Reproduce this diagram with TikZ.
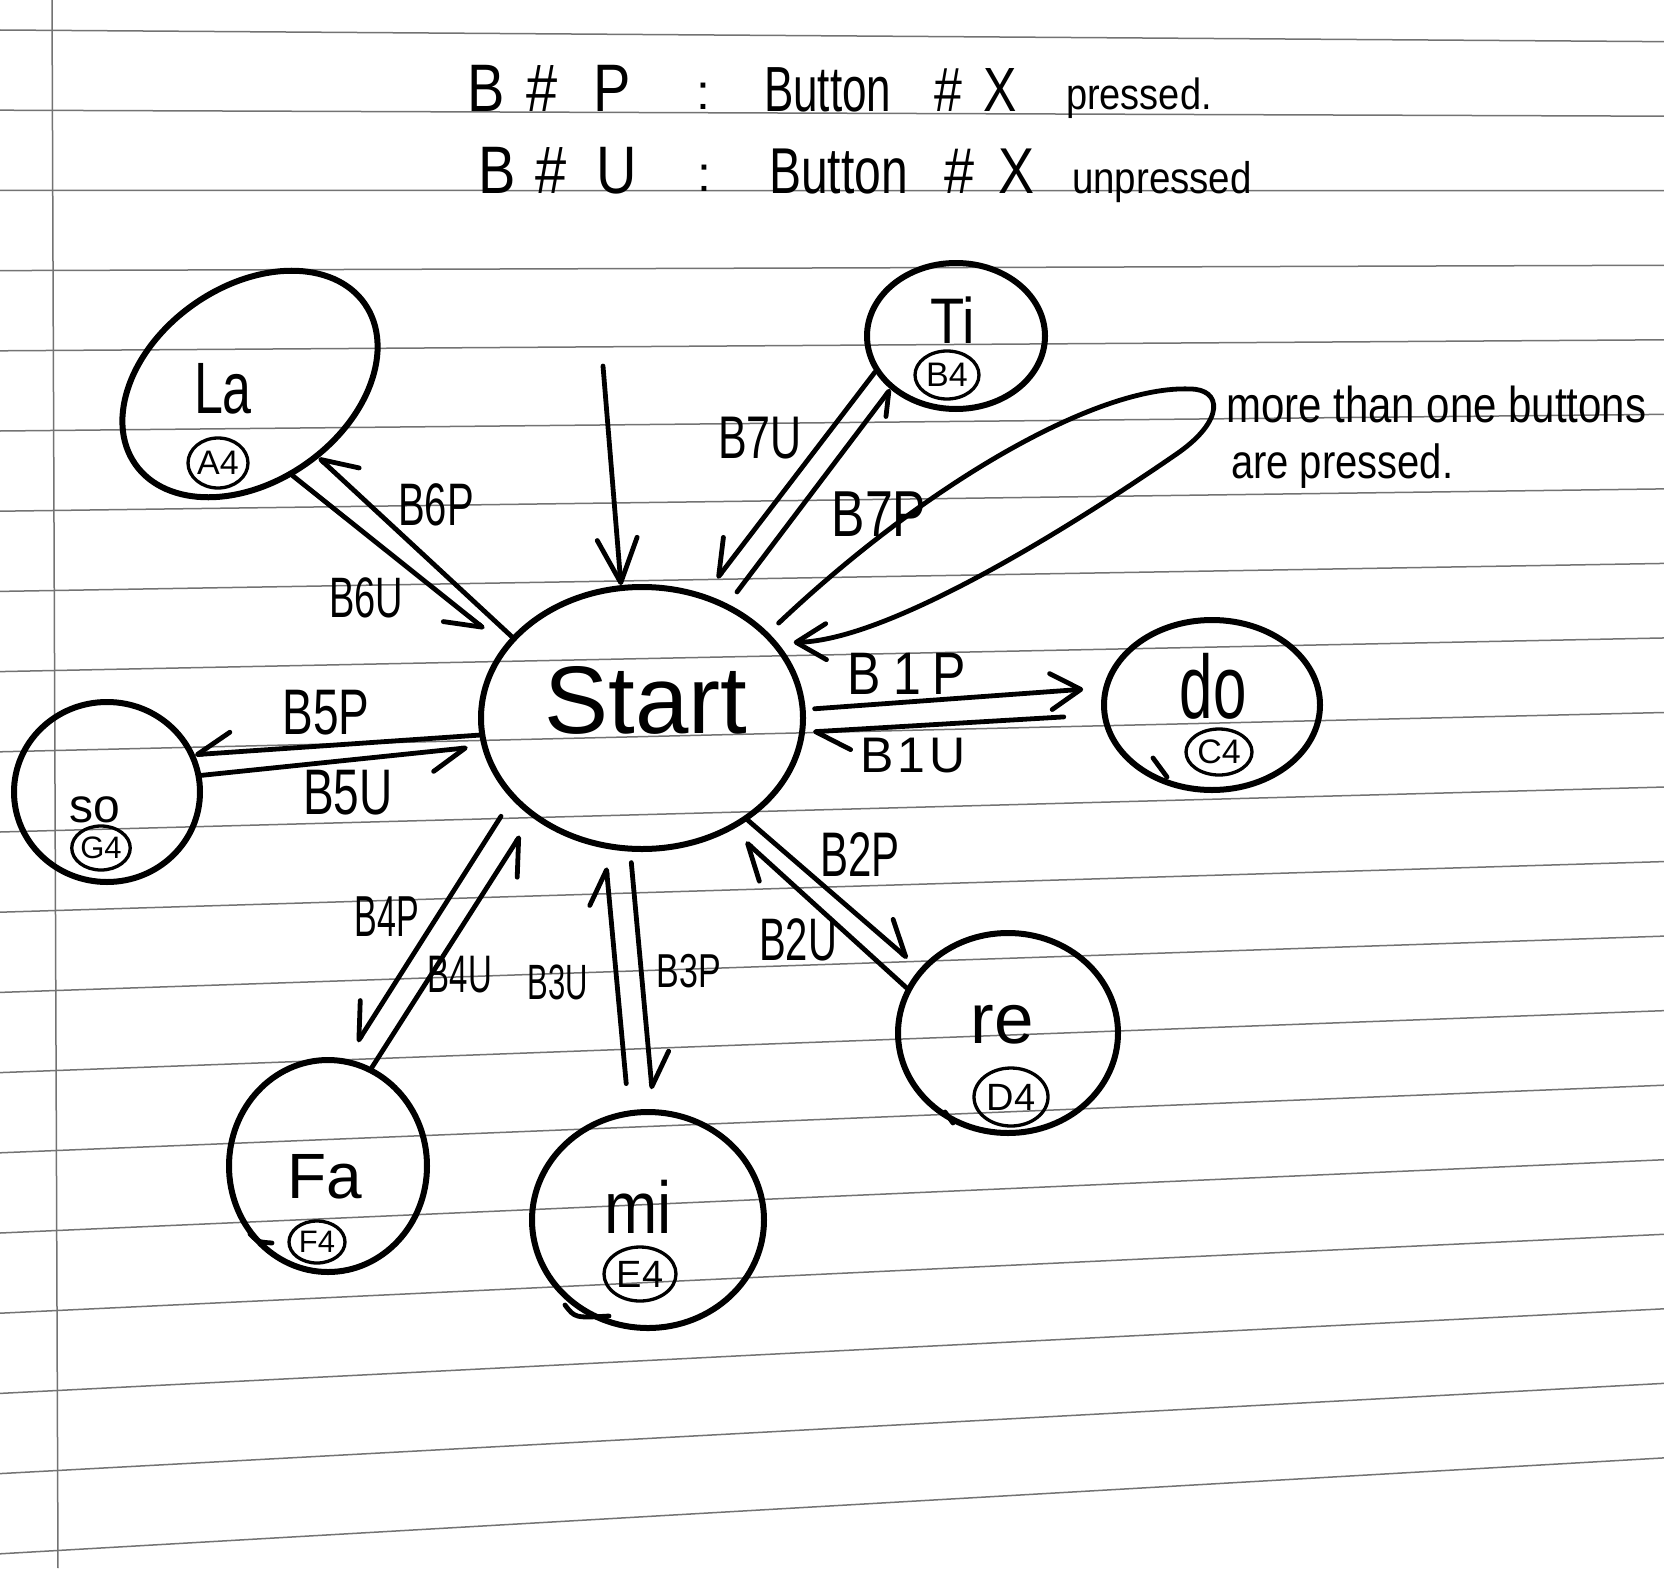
\documentclass[tikz,border=0pt]{standalone}
\usepackage{fontspec}
\setmainfont{Liberation Sans}
\usetikzlibrary{shapes.geometric,arrows.meta}
\newcommand{\hw}[2]{\scalebox{1}[#1]{#2}}
\newcommand{\fsz}[1]{\fontsize{#1}{#1}\selectfont}
\begin{document}
\begin{tikzpicture}[x=1pt,y=-1pt,
 rule/.style={draw=black!55,line width=1.5pt},
 stateE/.style={draw,ellipse,line width=6pt,inner sep=0pt},
 noteE/.style={draw,ellipse,line width=3.3pt,inner sep=0pt},
 trans/.style={line width=4.8pt,line cap=round},
 tipF/.style={-{Straight Barb[length=30pt,width=36pt,round]}},
 tipL/.style={-{Straight Barb[length=34pt,width=40pt,round,left]}},
 tipR/.style={-{Straight Barb[length=34pt,width=40pt,round,right]}},
 txt/.style={inner sep=0pt,outer sep=0pt},
 tail/.style={line width=4.8pt,line cap=round},
]
\useasboundingbox (0,0) rectangle (1664,1568);
\fill[white] (0,0) rectangle (1664,1568);
% ruled paper
\foreach \k in {0,...,19}{
  \draw[rule] (0,{30+80.2*\k}) -- (1664,{30+80.2*\k+1664*(0.007-0.0034*\k)});
}
\draw[rule] (52,0) -- (58,1568);

% legend
\node[txt,anchor=base west,font=\fsz{56}] (l1a) at (467,112) {\hw{1.2}{B\kern22pt\#\kern36pt P}};
\node[txt,anchor=base,font=\fsz{50}] (l1b) at (703,110) {:};
\node[txt,anchor=base west,font=\fsz{44}] (l1c) at (764,112) {\hw{1.45}{Button}};
\node[txt,anchor=base west,font=\fsz{50}] (l1d) at (934,112) {\hw{1.25}{\#\kern22pt X}};
\node[txt,anchor=base west,font=\fsz{38}] (l1e) at (1066,110) {\hw{1.15}{pressed.}};
\node[txt,anchor=base west,font=\fsz{56}] (l2a) at (478,193) {\hw{1.2}{B\kern20pt\#\kern30pt U}};
\node[txt,anchor=base,font=\fsz{50}] (l2b) at (704,191) {:};
\node[txt,anchor=base west,font=\fsz{48}] (l2c) at (769,193) {\hw{1.35}{Button}};
\node[txt,anchor=base west,font=\fsz{54}] (l2d) at (944,193) {\hw{1.2}{\#\kern25pt X}};
\node[txt,anchor=base west,font=\fsz{38.5}] (l2e) at (1072,193) {\hw{1.15}{unpressed}};

% states
\node[stateE,minimum width=322pt,minimum height=262pt] (start) at (642,718) {};
\node[txt,font=\fsz{96}] (startT) at (646,700) {Start};
\node[stateE,minimum width=280pt,minimum height=195pt,rotate=35] (la) at (250,384) {};
\node[txt,font=\fsz{52}] (laT) at (223,389) {\hw{1.4}{La}};
\node[noteE,minimum width=60pt,minimum height=50pt,font=\fsz{34}] (laN) at (218,463) {A4};
\node[stateE,minimum width=178pt,minimum height=146pt] (ti) at (956,336) {};
\node[txt,font=\fsz{56}] (tiT) at (953,320) {\hw{1.15}{Ti}};
\node[noteE,minimum width=64pt,minimum height=48pt,font=\fsz{34}] (tiN) at (947,375) {B4};
\node[stateE,minimum width=216pt,minimum height=170pt] (do) at (1212,705) {};
\node[txt,font=\fsz{60}] (doT) at (1213,686) {\hw{1.5}{do}};
\node[noteE,minimum width=66pt,minimum height=46pt,font=\fsz{34}] (doN) at (1219,752) {C4};
\node[stateE,minimum width=186pt,minimum height=180pt] (so) at (107,792) {};
\node[txt,font=\fsz{48}] (soT) at (95,810) {so};
\node[noteE,minimum width=58pt,minimum height=44pt,font=\fsz{31}] (soN) at (101,848) {G4};
\node[stateE,minimum width=198pt,minimum height=212pt] (fa) at (328,1166) {};
\node[txt,font=\fsz{64}] (faT) at (325,1177) {Fa};
\node[noteE,minimum width=56pt,minimum height=42pt,font=\fsz{31}] (faN) at (317,1242) {F4};
\node[stateE,minimum width=232pt,minimum height=216pt] (mi) at (648,1220) {};
\node[txt,font=\fsz{64}] (miT) at (638,1207) {\hw{1.15}{mi}};
\node[noteE,minimum width=72pt,minimum height=54pt,font=\fsz{38}] (miN) at (640,1274) {E4};
\node[stateE,minimum width=220pt,minimum height=200pt] (re) at (1008,1033) {};
\node[txt,font=\fsz{71}] (reT) at (1002,1025) {re};
\node[noteE,minimum width=74pt,minimum height=58pt,font=\fsz{38}] (reN) at (1011,1097) {D4};

% hand-drawn overshoot strokes
\draw[tail] (250,1234) .. controls (258,1242) .. (272,1243);
\draw[tail] (565,1305) .. controls (575,1318) .. (609,1316);
\draw[tail] (1153,758) -- (1167,777);
\draw[tail] (945,1112) -- (953,1123);

% initial arrow
\coordinate (init) at (603,366);
\draw[trans,-{Straight Barb[length=44pt,width=40pt,round]}] (init) -- (start.99);

% transitions
\draw[trans,tipR] (start.148) -- (la.-82);
\draw[trans,tipR,shorten >=26pt] (la.-100) -- (start.152);
\draw[trans,tipR] (start.186) -- (so.23);
\draw[trans,tipR,shorten >=14pt] (so.10) -- (start.190);
\draw[trans,tipR,shorten <=20pt,shorten >=20pt] (start.212) -- (fa.80);
\draw[trans,tipR,shorten >=22pt] (fa.66) -- (start.222);
\draw[trans,tipL,shorten <=27pt,shorten >=19pt] (mi.100) -- (start.254);
\draw[trans,tipL,shorten <=11pt,shorten >=20pt] (start.265) -- (mi.87);
\draw[trans,tipL,shorten >=16pt] (start.-44) -- (re.144);
\draw[trans,tipL,shorten >=18pt] (re.156) -- (start.-51);
\draw[trans,tipF,shorten <=9pt,shorten >=20pt] (start.3) -- (do.171);
\draw[trans,tipL,shorten <=38pt,shorten >=8pt] (do.185) -- (start.-5);
\draw[trans,tipR,shorten >=20pt] (ti.204) -- (start.63);
\draw[trans,-{Straight Barb[length=22pt,width=26pt,round,right]},shorten <=15pt] (start.53) -- (ti.219);

% self loop
\coordinate (loopA) at (1190,389);
\coordinate (loopB) at (1178,453);
\draw[trans,tipF,shorten <=14pt,shorten >=16pt] (start.34) .. controls (930,480) and (1100,385) .. (loopA)
  .. controls (1222,389) and (1225,420) .. (loopB)
  .. controls (1110,500) and (900,640) .. (start.29);

% transition labels
\node[txt,font=\fsz{40}] (lB6P) at (436,505) {\hw{1.5}{B6P}};
\node[txt,font=\fsz{38}] (lB6U) at (366,598) {\hw{1.5}{B6U}};
\node[txt,font=\fsz{43}] (lB7U) at (760,438) {\hw{1.4}{B7U}};
\node[txt,font=\fsz{50}] (lB7P) at (879,514) {\hw{1.3}{B7P}};
\node[txt,font=\fsz{46}] (lB5P) at (326,713) {\hw{1.4}{B5P}};
\node[txt,font=\fsz{46}] (lB5U) at (348,793) {\hw{1.4}{B5U}};
\node[txt,font=\fsz{34}] (lB4P) at (387,917) {\hw{1.7}{B4P}};
\node[txt,font=\fsz{33}] (lB4U) at (460,975) {\hw{1.6}{B4U}};
\node[txt,font=\fsz{31}] (lB3U) at (558,982) {\hw{1.6}{B3U}};
\node[txt,font=\fsz{34}] (lB3P) at (689,971) {\hw{1.4}{B3P}};
\node[txt,font=\fsz{42}] (lB2P) at (860,854) {\hw{1.5}{B2P}};
\node[txt,font=\fsz{40}] (lB2U) at (798,940) {\hw{1.5}{B2U}};
\node[txt,font=\fsz{50}] (lB1P) at (907,674) {\hw{1.2}{B\kern12pt 1\kern12pt P}};
\node[txt,font=\fsz{50}] (lB1U) at (913,756) {B\kern4pt 1\kern4pt U};

% annotation of the self loop
\node[txt,anchor=base west,font=\fsz{42}] (noteA) at (1226,422) {\hw{1.2}{more than one buttons}};
\node[txt,anchor=base west,font=\fsz{40}] (noteB) at (1231,478) {\hw{1.2}{are pressed.}};
\end{tikzpicture}
\end{document}
